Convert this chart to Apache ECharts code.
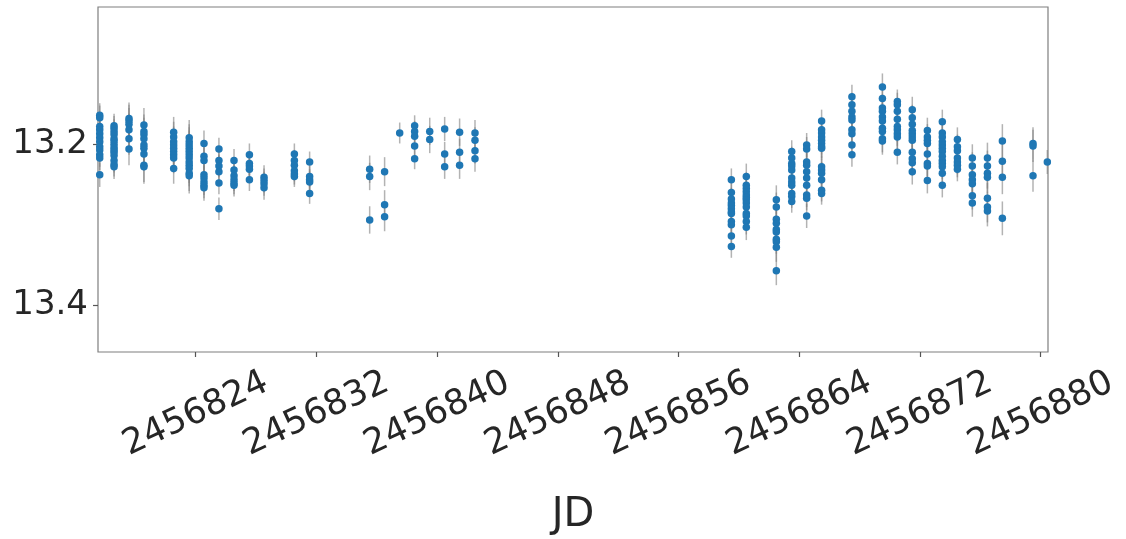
<!DOCTYPE html>
<html>
<head>
<meta charset="utf-8">
<script src="https://cdn.jsdelivr.net/npm/echarts@6/dist/echarts.min.js"></script>
<style>
  html, body { margin: 0; padding: 0; background: #ffffff; }
  #chart { width: 1126px; height: 539px; }
</style>
</head>
<body>
<div id="chart"></div>
<script>
// Observation nights (JD) and the magnitudes measured on each night
const nightJD = [
  2456817.64, 2456818.59, 2456819.58, 2456820.57, 2456822.54, 2456823.57,
  2456824.55, 2456825.54, 2456826.54, 2456827.56, 2456828.53, 2456830.54,
  2456831.55, 2456835.53, 2456836.52, 2456837.52, 2456838.51, 2456839.51,
  2456840.50, 2456841.49, 2456842.51, 2456859.50, 2456860.49, 2456862.48,
  2456863.50, 2456864.49, 2456865.48, 2456867.49, 2456869.51, 2456870.50,
  2456871.49, 2456872.49, 2456873.48, 2456874.48, 2456875.47, 2456876.47,
  2456877.46, 2456879.49, 2456880.44
];

const nightMags = [
  [13.164, 13.167, 13.178, 13.182, 13.187, 13.192, 13.197, 13.203, 13.207, 13.213, 13.217, 13.238],
  [13.177, 13.180, 13.184, 13.188, 13.193, 13.196, 13.200, 13.204, 13.207, 13.210, 13.214, 13.220, 13.225, 13.228],
  [13.168, 13.171, 13.175, 13.182, 13.193, 13.206],
  [13.176, 13.184, 13.188, 13.193, 13.201, 13.205, 13.212, 13.226, 13.228],
  [13.185, 13.191, 13.197, 13.201, 13.205, 13.209, 13.213, 13.217, 13.230],
  [13.192, 13.197, 13.201, 13.205, 13.209, 13.213, 13.217, 13.222, 13.226, 13.230, 13.236, 13.239],
  [13.199, 13.215, 13.220, 13.238, 13.242, 13.247, 13.251, 13.254],
  [13.206, 13.220, 13.227, 13.234, 13.248, 13.280],
  [13.220, 13.232, 13.239, 13.244, 13.248, 13.251],
  [13.213, 13.224, 13.227, 13.231, 13.244],
  [13.241, 13.245, 13.249, 13.254],
  [13.212, 13.220, 13.226, 13.233, 13.237, 13.240],
  [13.222, 13.240, 13.244, 13.247, 13.261],
  [13.231, 13.240, 13.294],
  [13.234, 13.275, 13.290],
  [13.186],
  [13.177, 13.184, 13.190, 13.202, 13.218],
  [13.184, 13.194],
  [13.181, 13.212, 13.228],
  [13.185, 13.210, 13.226],
  [13.186, 13.195, 13.208, 13.218],
  [13.244, 13.260, 13.268, 13.273, 13.276, 13.280, 13.284, 13.286, 13.296, 13.300, 13.314, 13.327],
  [13.240, 13.251, 13.255, 13.259, 13.263, 13.266, 13.269, 13.273, 13.278, 13.286, 13.289, 13.296, 13.303],
  [13.269, 13.278, 13.293, 13.298, 13.306, 13.309, 13.318, 13.321, 13.328, 13.357],
  [13.209, 13.217, 13.224, 13.227, 13.232, 13.242, 13.247, 13.251, 13.261, 13.265, 13.271],
  [13.201, 13.206, 13.222, 13.226, 13.234, 13.242, 13.251, 13.263, 13.267, 13.289],
  [13.171, 13.182, 13.186, 13.191, 13.195, 13.199, 13.203, 13.205, 13.228, 13.232, 13.236, 13.244, 13.257, 13.261],
  [13.141, 13.151, 13.159, 13.166, 13.170, 13.182, 13.187, 13.201, 13.213],
  [13.129, 13.143, 13.155, 13.159, 13.166, 13.171, 13.180, 13.184, 13.193, 13.196],
  [13.147, 13.151, 13.159, 13.169, 13.178, 13.182, 13.187, 13.191, 13.210],
  [13.157, 13.167, 13.175, 13.183, 13.187, 13.191, 13.195, 13.210, 13.218, 13.223, 13.234],
  [13.183, 13.191, 13.195, 13.199, 13.212, 13.224, 13.227, 13.245],
  [13.172, 13.186, 13.191, 13.197, 13.201, 13.205, 13.209, 13.215, 13.220, 13.224, 13.228, 13.236, 13.251],
  [13.194, 13.203, 13.208, 13.217, 13.222, 13.226, 13.231],
  [13.217, 13.227, 13.238, 13.244, 13.249, 13.264, 13.273],
  [13.217, 13.227, 13.236, 13.241, 13.267, 13.278, 13.283],
  [13.196, 13.221, 13.241, 13.292],
  [13.199, 13.202, 13.239],
  [13.222]
];

// Typical 1-sigma photometric error on each night
const nightErr = [
  0.015, 0.015, 0.020, 0.021, 0.019, 0.022, 0.016, 0.014, 0.014, 0.014,
  0.015, 0.013, 0.013, 0.017, 0.018, 0.013, 0.013, 0.017, 0.015, 0.017,
  0.016, 0.014, 0.016, 0.018, 0.014, 0.015, 0.014, 0.015, 0.017, 0.015,
  0.016, 0.016, 0.015, 0.015, 0.017, 0.019, 0.021, 0.020, 0.015
];

const xTicks = [2456824, 2456832, 2456840, 2456848, 2456856, 2456864, 2456872, 2456880];
const yTicks = [13.2, 13.4];

// Flatten into [jd, mag, err] rows
const rows = [];
nightJD.forEach((jd, i) => {
  nightMags[i].forEach(m => rows.push([jd, m, nightErr[i]]));
});

const textColor = '#262626';
const font = 'DejaVu Sans';

const chart = echarts.init(document.getElementById('chart'), null, { renderer: 'canvas' });

chart.setOption({
  animation: false,
  backgroundColor: '#ffffff',
  grid: {
    left: 98, right: 78, top: 7, bottom: 187,
    outerBoundsMode: 'none',
    containLabel: false,
    show: true, borderColor: '#7f7f7f', borderWidth: 1.2, backgroundColor: 'transparent'
  },
  xAxis: {
    type: 'value',
    min: 2456817.526,
    max: 2456880.484,
    name: 'JD',
    nameLocation: 'middle',
    nameGap: 144,
    nameTextStyle: { fontFamily: font, fontSize: 40, color: textColor },
    axisLine: { show: false },
    splitLine: { show: false },
    axisTick: {
      show: true, inside: false, length: 5,
      customValues: xTicks,
      lineStyle: { color: '#555555', width: 1.2 }
    },
    axisLabel: {
      customValues: xTicks,
      rotate: 25,
      align: 'center',
      verticalAlign: 'middle',
      margin: 62,
      fontFamily: font,
      fontSize: 35,
      color: textColor,
      formatter: v => String(Math.round(v))
    }
  },
  yAxis: {
    type: 'value',
    inverse: true,
    min: 13.0295,
    max: 13.458,
    axisLine: { show: false },
    splitLine: { show: false },
    axisTick: {
      show: true, inside: false, length: 5,
      customValues: yTicks,
      lineStyle: { color: '#555555', width: 1.2 }
    },
    axisLabel: {
      customValues: yTicks,
      margin: 10,
      fontFamily: font,
      fontSize: 34,
      color: textColor,
      formatter: v => v.toFixed(1)
    }
  },
  series: [
    {
      // vertical error bars
      type: 'custom',
      z: 1,
      clip: true,
      data: rows,
      encode: { x: 0, y: 1 },
      renderItem: (params, api) => {
        const x = api.value(0), y = api.value(1), e = api.value(2);
        const p1 = api.coord([x, y - e]);
        const p2 = api.coord([x, y + e]);
        return {
          type: 'line',
          shape: { x1: p1[0], y1: p1[1], x2: p2[0], y2: p2[1] },
          style: { stroke: 'rgba(128,128,128,0.6)', lineWidth: 1.5 }
        };
      }
    },
    {
      type: 'scatter',
      z: 2,
      data: rows.map(r => [r[0], r[1]]),
      symbol: 'circle',
      symbolSize: 7.5,
      itemStyle: { color: '#1f77b4', opacity: 1 }
    }
  ]
});
</script>
</body>
</html>
